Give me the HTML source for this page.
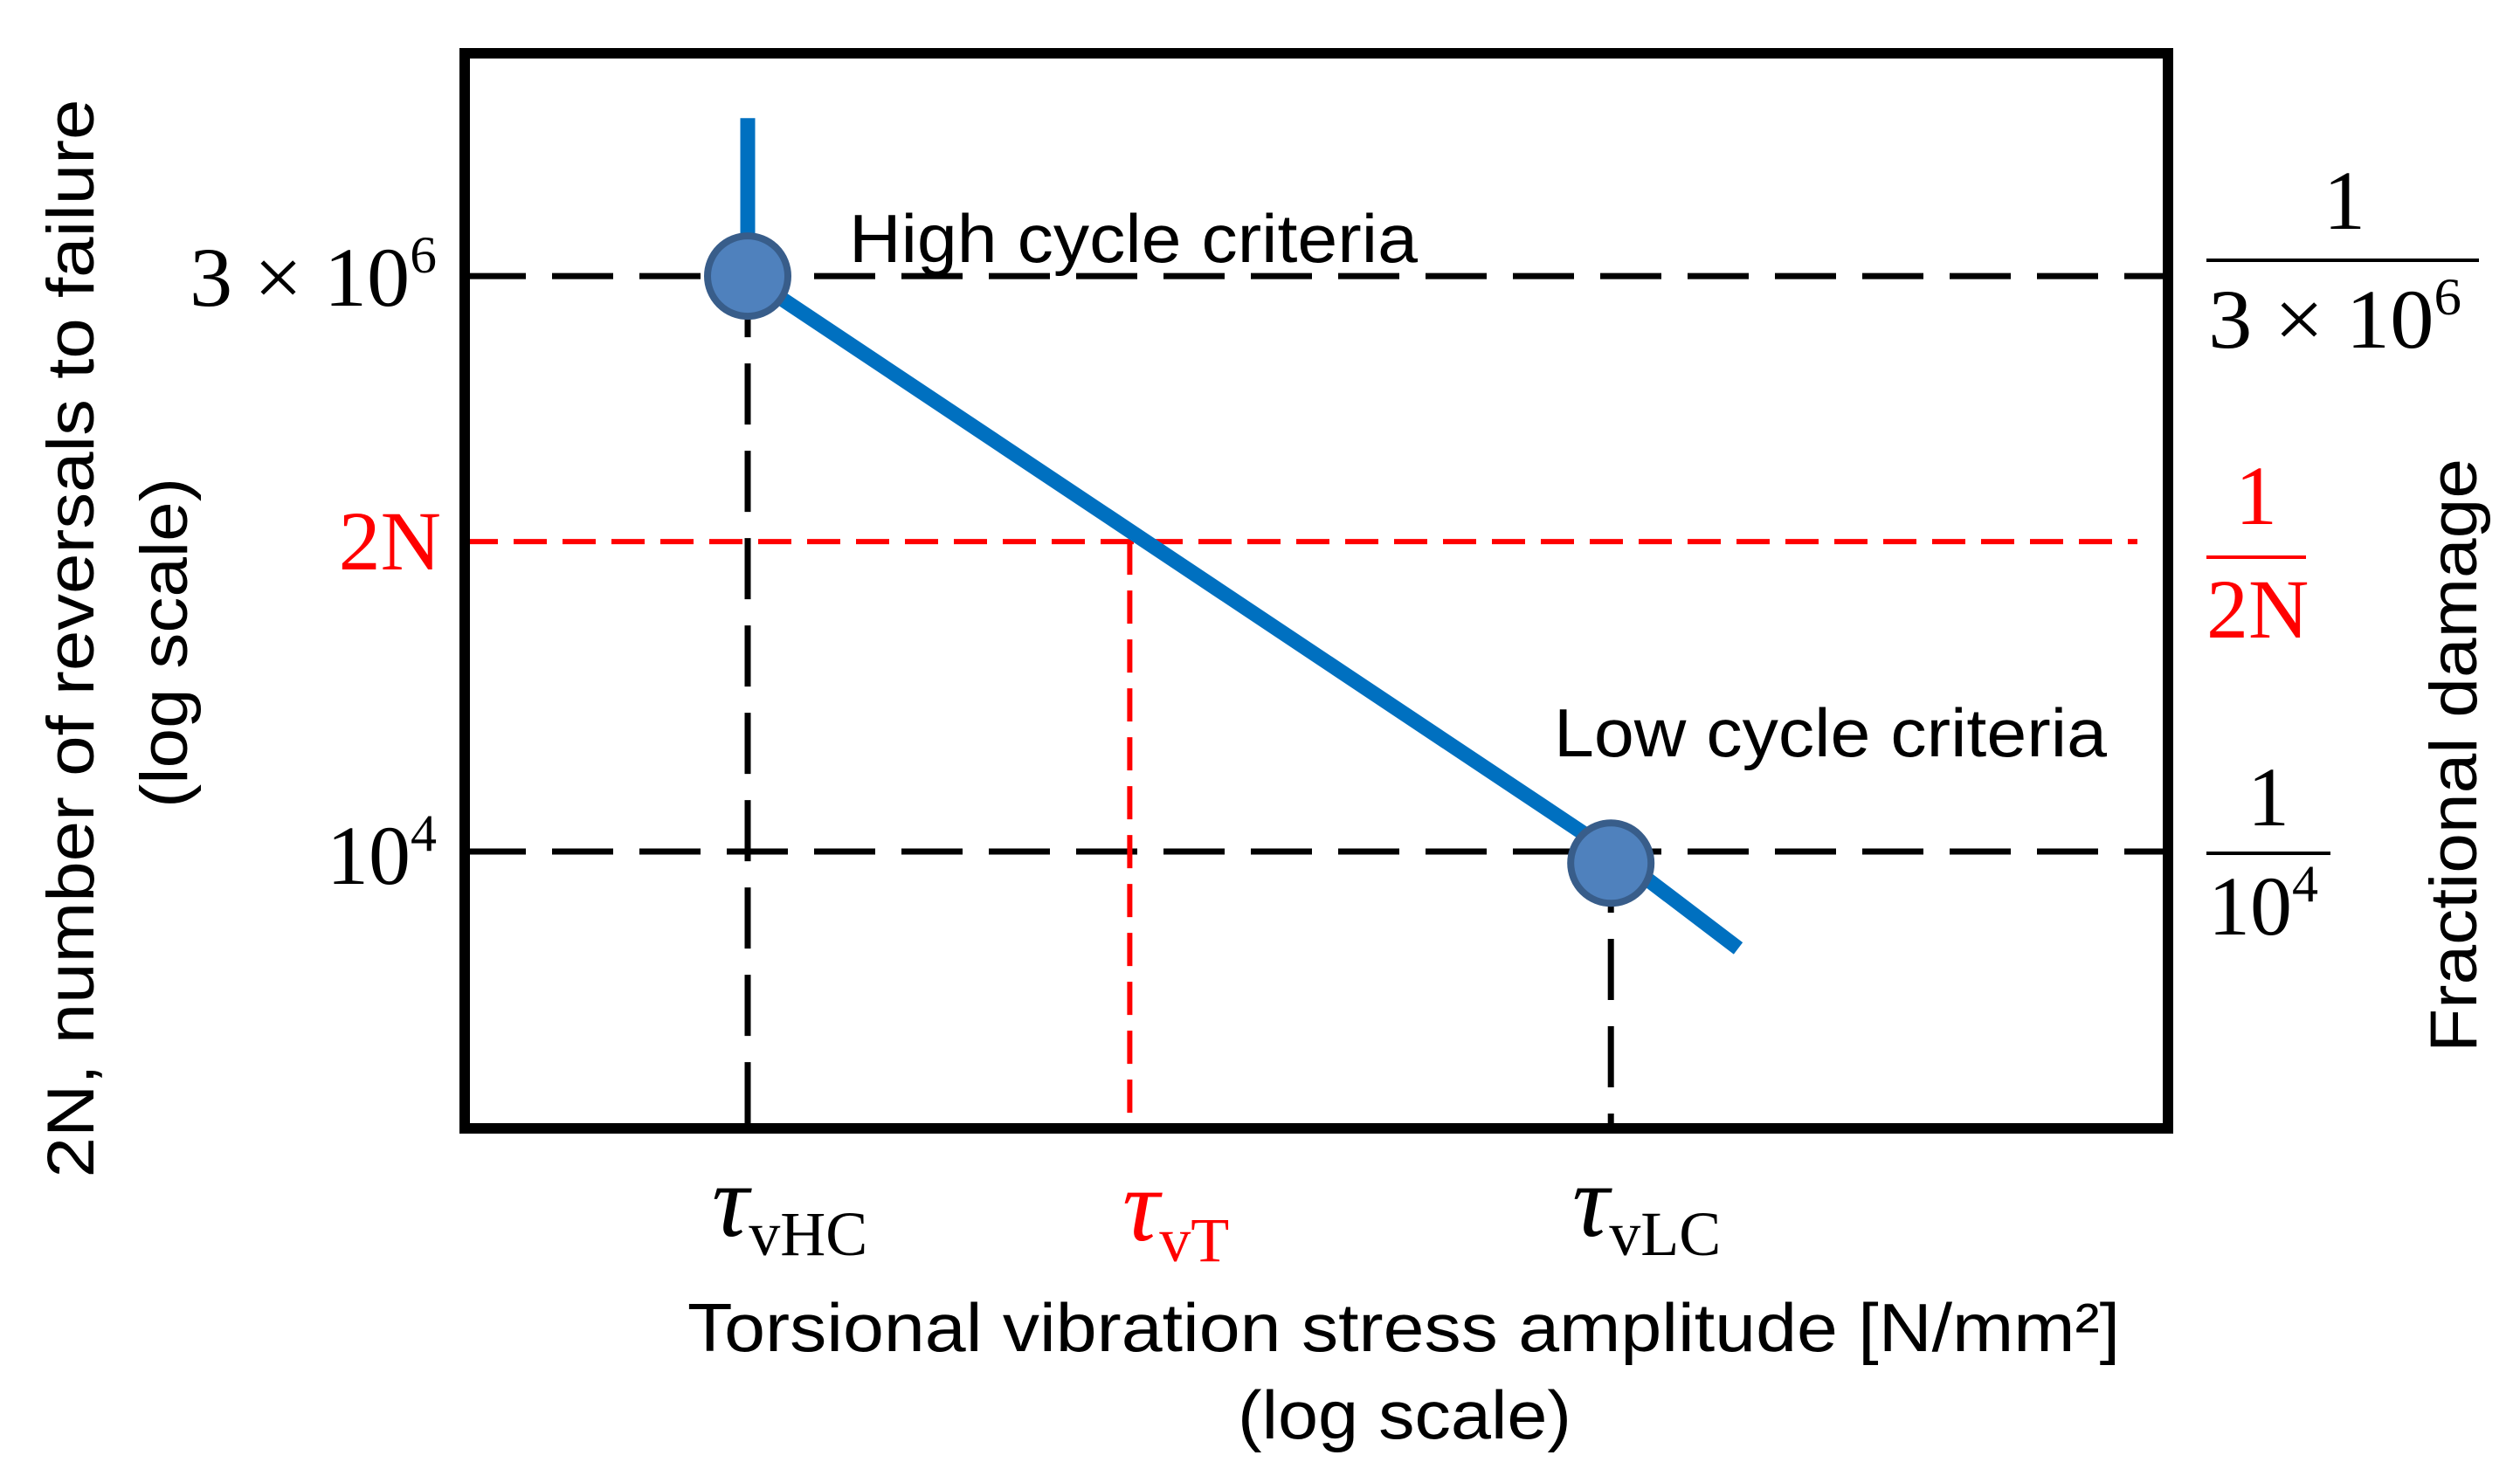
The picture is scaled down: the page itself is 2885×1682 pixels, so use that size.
<!DOCTYPE html>
<html><head><meta charset="utf-8">
<style>
html,body{margin:0;padding:0;background:#fff;}
svg{display:block;}
.sans{font-family:"Liberation Sans",Arial,sans-serif;}
.serif{font-family:"Liberation Serif","DejaVu Serif",serif;}
</style></head>
<body>
<svg id="chart" width="2885" height="1682" viewBox="0 0 2885 1682" xmlns="http://www.w3.org/2000/svg">
  <g id="grid"></g>
  <g id="series"></g>
  <rect x="532" y="61" width="1950" height="1231" fill="none" stroke="#000" stroke-width="12"/>

  <text class="sans" x="972" y="300" font-size="78" textLength="651" lengthAdjust="spacingAndGlyphs">High cycle criteria</text>
  <text class="sans" x="1779" y="866" font-size="78" textLength="633" lengthAdjust="spacingAndGlyphs">Low cycle criteria</text>

  <text class="serif" x="500" y="350" font-size="96" text-anchor="end" textLength="283" lengthAdjust="spacingAndGlyphs">3 × 10<tspan font-size="60" dy="-38">6</tspan></text>
  <text class="serif" x="505" y="652" font-size="96" fill="#ff0000" text-anchor="end">2N</text>
  <text class="serif" x="500" y="1012" font-size="96" text-anchor="end">10<tspan font-size="60" dy="-38">4</tspan></text>

  <g>
    <text class="serif" x="2684" y="262" font-size="96" text-anchor="middle">1</text>
    <line x1="2526" y1="298" x2="2838" y2="298" stroke="#000" stroke-width="4"/>
    <text class="serif" x="2528" y="398" font-size="96" textLength="290" lengthAdjust="spacingAndGlyphs">3 × 10<tspan font-size="60" dy="-38">6</tspan></text>
  </g>
  <g fill="#ff0000">
    <text class="serif" x="2583" y="600" font-size="96" text-anchor="middle">1</text>
    <line x1="2526" y1="638" x2="2640" y2="638" stroke="#ff0000" stroke-width="4"/>
    <text class="serif" x="2526" y="730" font-size="96">2N</text>
  </g>
  <g>
    <text class="serif" x="2597" y="945" font-size="96" text-anchor="middle">1</text>
    <line x1="2526" y1="977" x2="2668" y2="977" stroke="#000" stroke-width="4"/>
    <text class="serif" x="2528" y="1070" font-size="96">10<tspan font-size="60" dy="-38">4</tspan></text>
  </g>

  <text class="sans" transform="translate(2835,865) rotate(-90)" font-size="76" text-anchor="middle" textLength="680" lengthAdjust="spacingAndGlyphs">Fractional damage</text>
  <text class="sans" transform="translate(107,731) rotate(-90)" font-size="76" text-anchor="middle" textLength="1235" lengthAdjust="spacingAndGlyphs">2N, number of reversals to failure</text>
  <text class="sans" transform="translate(214,736) rotate(-90)" font-size="76" text-anchor="middle" textLength="378" lengthAdjust="spacingAndGlyphs">(log scale)</text>

  <text class="serif" x="815" y="1415" font-size="118" font-style="italic">τ<tspan font-size="72" font-style="normal" dy="22">vHC</tspan></text>
  <text class="serif" x="1285" y="1420" font-size="118" font-style="italic" fill="#ff0000">τ<tspan font-size="72" font-style="normal" dy="24">vT</tspan></text>
  <text class="serif" x="1800" y="1415" font-size="118" font-style="italic">τ<tspan font-size="72" font-style="normal" dy="22">vLC</tspan></text>

  <text class="sans" x="787" y="1547" font-size="78" textLength="1640" lengthAdjust="spacingAndGlyphs">Torsional vibration stress amplitude [N/mm²]</text>
  <text class="sans" x="1417" y="1647" font-size="78" textLength="382" lengthAdjust="spacingAndGlyphs">(log scale)</text>
</svg>
<script>
// data (log10 units)
const criteriaNames = ['high-cycle', 'low-cycle'];
const criteriaLogStress = [2.0, 2.61];
const criteriaLogCycles = [6.477, 4.0];
const markerLogCycles = [6.477, 3.95];
const curveLogStress = [2.0, 2.0, 2.61, 2.70];
const curveLogCycles = [7.157, 6.477, 4.0, 3.583];
const targetLogStress = [2.27];
const targetLogCycles = [5.334];

const NS = 'http://www.w3.org/2000/svg';
const X0 = 532, X1 = 2482, Y0 = 1292, Y1 = 61;
function xs(v){ return X0 + (v - 1.8) * 1620; }
function ys(v){ return 975 - (v - 4.0) * 266; }
function mk(tag, attrs, parent){
  const e = document.createElementNS(NS, tag);
  for (const k in attrs) e.setAttribute(k, attrs[k]);
  parent.appendChild(e);
  return e;
}
const grid = document.getElementById('grid');
const series = document.getElementById('series');

criteriaNames.forEach((n, i) => {
  const h = mk('line', {x1: X0, y1: ys(criteriaLogCycles[i]), x2: X1, y2: ys(criteriaLogCycles[i]), stroke: '#000', 'stroke-width': 7, 'stroke-dasharray': '70 30'}, grid);
  
  
  const v = mk('line', {x1: xs(criteriaLogStress[i]), y1: ys(criteriaLogCycles[i]), x2: xs(criteriaLogStress[i]), y2: Y0, stroke: '#000', 'stroke-width': 7, 'stroke-dasharray': '70 30'}, grid);
  
  
});
targetLogStress.forEach((s, i) => {
  const h = mk('line', {x1: X0, y1: ys(targetLogCycles[i]), x2: 2447, y2: ys(targetLogCycles[i]), stroke: '#ff0000', 'stroke-width': 6, 'stroke-dasharray': '38 18'}, grid);
  
  
  const v = mk('line', {x1: xs(s), y1: ys(targetLogCycles[i]), x2: xs(s), y2: Y0, stroke: '#ff0000', 'stroke-width': 6, 'stroke-dasharray': '38 18'}, grid);
  
  
});
const pts = curveLogStress.map((s, i) => xs(s) + ',' + ys(curveLogCycles[i])).join(' ');
const pl = mk('polyline', {points: pts, fill: 'none', stroke: '#0070c0', 'stroke-width': 17, 'stroke-linejoin': 'miter'}, series);


criteriaNames.forEach((n, i) => {
  const c = mk('circle', {cx: xs(criteriaLogStress[i]), cy: ys(markerLogCycles[i]), r: 46, fill: '#4f81bd', stroke: '#385d8a', 'stroke-width': 8}, series);
  
  
});
</script>
</body></html>
